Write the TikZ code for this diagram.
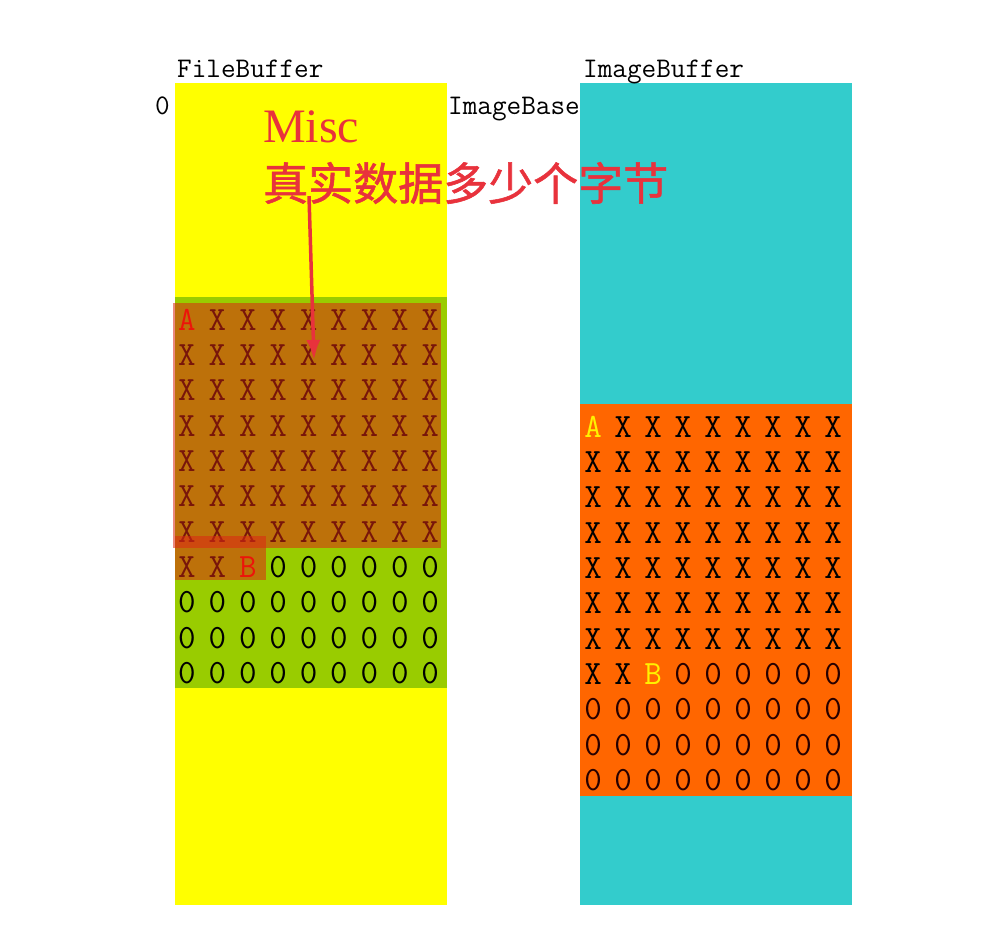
\documentclass[tikz,border=0pt]{standalone}
\usepackage{fontspec}
\usepackage{tikz}
\usetikzlibrary{arrows.meta,positioning}
\setmainfont{Liberation Serif}
\newfontfamily\cjk[FakeBold=1.2]{Noto Sans CJK SC}
\definecolor{bufyellow}{HTML}{FFFF00}
\definecolor{bufgreen}{HTML}{99CC00}
\definecolor{bufcyan}{HTML}{33CCCC}
\definecolor{buforange}{HTML}{FF6600}
\definecolor{markred}{HTML}{DC2814}
\definecolor{notered}{HTML}{E8323C}

\begin{document}
\begin{tikzpicture}[
 x=1pt,y=-1pt,
 col/.style={anchor=north west,inner sep=0,outer sep=0},
 lbl/.style={anchor=base west,inner sep=0,font=\ttfamily\fontsize{28.4}{28}\selectfont},
 cell/.style={inner sep=0,font=\ttfamily\fontsize{34}{34}\selectfont},
 a/.style={-{Latex[length=20pt,width=14pt]},line width=3.5pt,draw=notered}
]
\fill[white] (0,0) rectangle (998,939);
\useasboundingbox (0,0) rectangle (998,939);
% the two buffers
\node[col,fill=bufyellow,minimum width=272pt,minimum height=822pt] (fileBuf) at (175,83) {};
\node[col,fill=bufgreen,minimum width=272pt,minimum height=391pt] (fileData) at (175,297) {};
\node[col,fill=bufcyan,minimum width=272pt,minimum height=822pt] (imageBuf) at (580,83) {};
\node[col,fill=buforange,minimum width=272pt,minimum height=392pt] (imageData) at (580,404) {};
% byte grids
\foreach \r in {0,...,10}{
 \foreach \c in {0,...,8}{
  \pgfmathtruncatemacro\idx{\r*9+\c}
  \ifnum\idx=0 \def\ch{A}\def\fcol{red}\def\icol{yellow}%
  \else\ifnum\idx<65 \def\ch{X}\def\fcol{black}\def\icol{black}%
  \else\ifnum\idx=65 \def\ch{B}\def\fcol{red}\def\icol{yellow}%
  \else \def\ch{0}\def\fcol{black}\def\icol{black!85!red}\fi\fi\fi
  \node[cell,text=\fcol] (f-\r-\c) at ({187+30.4*\c},{320+35.3*\r}) {\ch};
  \node[cell,text=\icol] (i-\r-\c) at ({593+30*\c},{427+35.3*\r}) {\ch};
 }
}
% marked misc area
\fill[markred,fill opacity=0.55] (173,303) rectangle (441,548);
\fill[markred,fill opacity=0.55] (175,536) rectangle (266,580);
% labels
\node[lbl] (fbName) at (177,78) {FileBuffer};
\node[lbl] (ibName) at (583,78) {ImageBuffer};
\node[lbl] (zero) at (155,115) {0};
\node[lbl] (ibBase) at (448,115) {ImageBase};
\node[anchor=west,inner sep=0,text=notered,font=\fontsize{48}{48}\selectfont] (misc) at (263,127) {Misc};
\node[anchor=west,inner sep=0,text=notered,font=\cjk\fontsize{45}{45}\selectfont] (note) at (263,183) {真实数据多少个字节};
\coordinate (tip) at (314,360);
\draw[a] ([xshift=46pt,yshift=8pt]note.south west) -- (tip);
\end{tikzpicture}
\end{document}
